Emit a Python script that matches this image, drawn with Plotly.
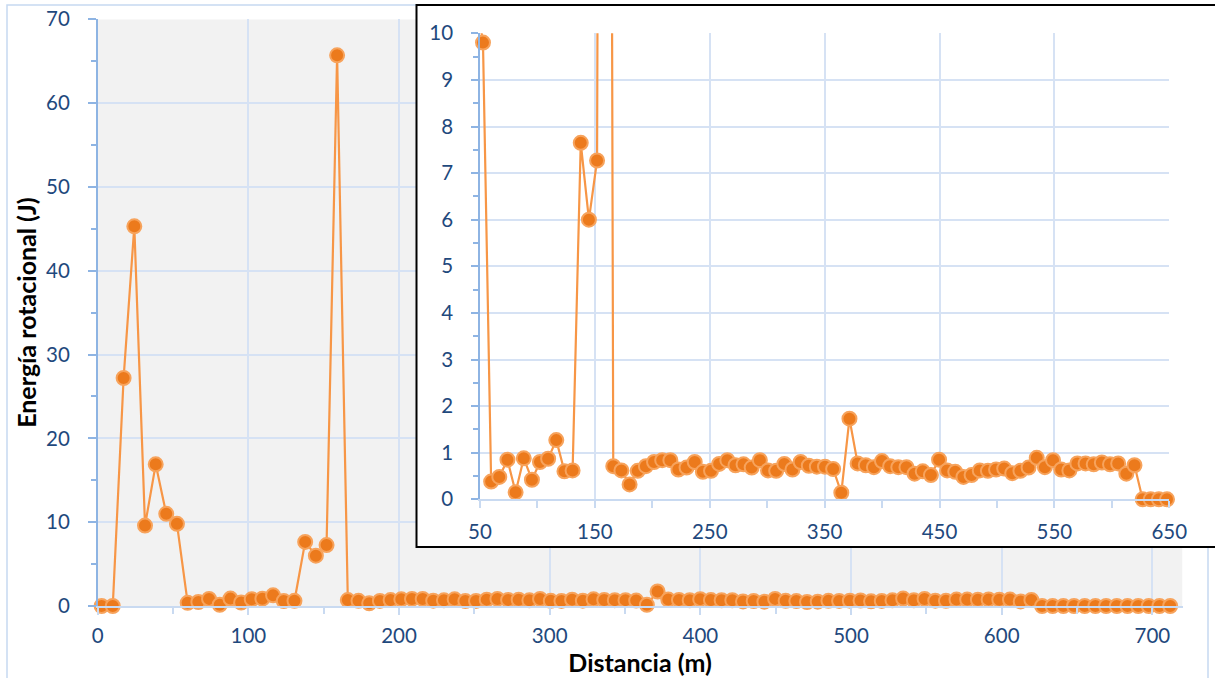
import plotly.graph_objects as go

# ---- data ----
distancia_m = [
    2.6, 10.0, 17.2, 24.3, 31.4, 38.5, 45.5, 52.6, 59.7, 66.8,
    73.9, 81.0, 88.1, 95.2, 102.2, 109.3, 116.4, 123.5, 130.6, 137.7,
    144.8, 151.9, 158.9, 166.0, 173.1, 180.2, 187.3, 194.4, 201.5, 208.6,
    215.7, 222.7, 229.8, 236.9, 244.0, 251.1, 258.2, 265.3, 272.4, 279.4,
    286.5, 293.6, 300.7, 307.8, 314.9, 322.0, 329.1, 336.2, 343.2, 350.3,
    357.4, 364.5, 371.6, 378.7, 385.8, 392.9, 399.9, 407.0, 414.1, 421.2,
    428.3, 435.4, 442.5, 449.6, 456.6, 463.7, 470.8, 477.9, 485.0, 492.1,
    499.2, 506.3, 513.3, 520.4, 527.5, 534.6, 541.7, 548.8, 555.9, 563.0,
    570.0, 577.1, 584.2, 591.3, 598.4, 605.5, 612.6, 619.7, 626.8, 633.8,
    640.9, 648.0, 655.1, 662.2, 669.3, 676.4, 683.5, 690.6, 697.6, 704.7,
    711.8,
]
energia_J = [
    0.0, 0.0, 27.2, 45.3, 9.6, 16.9, 11.0, 9.8, 0.38, 0.48,
    0.85, 0.15, 0.88, 0.42, 0.80, 0.87, 1.27, 0.60, 0.62, 7.65,
    6.0, 7.27, 65.7, 0.71, 0.62, 0.32, 0.61, 0.71, 0.80, 0.84,
    0.84, 0.64, 0.68, 0.80, 0.59, 0.61, 0.76, 0.84, 0.73, 0.75,
    0.68, 0.84, 0.62, 0.61, 0.76, 0.64, 0.80, 0.72, 0.70, 0.70,
    0.65, 0.14, 1.73, 0.77, 0.73, 0.69, 0.82, 0.71, 0.69, 0.69,
    0.55, 0.60, 0.52, 0.85, 0.62, 0.59, 0.48, 0.52, 0.62, 0.61,
    0.64, 0.66, 0.56, 0.61, 0.68, 0.89, 0.69, 0.84, 0.64, 0.62,
    0.77, 0.77, 0.75, 0.79, 0.75, 0.77, 0.55, 0.73, 0.0, 0.0,
    0.0, 0.0, 0.0, 0.0, 0.0, 0.0, 0.0, 0.0, 0.0, 0.0,
    0.0,
]
main_x_ticks = [0, 100, 200, 300, 400, 500, 600, 700]
main_x_minor = [50, 150, 250, 350, 450, 550, 650]
main_y_ticks = [0, 10, 20, 30, 40, 50, 60, 70]
main_y_minor = [5, 15, 25, 35, 45, 55, 65]
inset_x_ticks = [50, 150, 250, 350, 450, 550, 650]
inset_x_minor = [100, 200, 300, 400, 500, 600]
inset_y_ticks = [0, 1, 2, 3, 4, 5, 6, 7, 8, 9, 10]

x_title = "Distancia (m)"
y_title = "Energía rotacional (J)"

# ---- styling ----
W, H = 1215, 678
FONT = "Lato"
TICK_COLOR = "#1F497D"
GRID = "#D6E2F4"
AXIS_BLUE = "#8EB4E3"
XAXIS_LINE = "#C9DAF1"
LINE_ORANGE = "#F79646"
MARK_FILL = "#EC7A1C"
MARK_EDGE = "#F7A35C"


def px_x(p):
    return p / W


def px_y(p):
    return 1 - p / H


marker = dict(size=14, color=MARK_FILL, line=dict(color=MARK_EDGE, width=2))
line = dict(color=LINE_ORANGE, width=2.2)

fig = go.Figure()
fig.add_trace(go.Scatter(x=distancia_m, y=energia_J, mode="lines+markers",
                         line=line, marker=marker, cliponaxis=False,
                         xaxis="x", yaxis="y", showlegend=False, hoverinfo="x+y"))
# white backing panel for the inset (empty subplot)
fig.add_trace(go.Scatter(x=[None], y=[None], xaxis="x2", yaxis="y2",
                         showlegend=False, hoverinfo="skip"))
fig.add_trace(go.Scatter(x=distancia_m, y=energia_J, mode="lines+markers",
                         line=line, marker=marker, cliponaxis=False,
                         xaxis="x3", yaxis="y3", showlegend=False, hoverinfo="x+y"))

tickfont = dict(family=FONT, size=20.5, color=TICK_COLOR)
titlefont = dict(family=FONT, size=25, color="black", weight="bold")

main_dom_x = [px_x(97.7), px_x(1182.5)]
main_dom_y = [px_y(606.0), px_y(19.3)]
inset_dom_x = [px_x(480.0), px_x(1169.3)]
inset_dom_y = [px_y(499.3), px_y(33.3)]
box_x = [px_x(416.5), 1.0]
box_y = [px_y(547.0), px_y(5.0)]

common = dict(automargin=False, zeroline=False, showgrid=True, gridcolor=GRID,
              gridwidth=1.5, tickfont=tickfont)

fig.update_layout(
    template="none",
    width=W, height=H,
    margin=dict(l=0, r=0, t=0, b=0, pad=0),
    paper_bgcolor="white",
    plot_bgcolor="white",
    font=dict(family=FONT),
    xaxis=dict(domain=main_dom_x, anchor="y", range=[0, 720],
               tickvals=main_x_ticks,
               showline=True, linecolor=XAXIS_LINE, linewidth=1.5,
               ticks="outside", ticklen=7, tickcolor=XAXIS_LINE, tickwidth=1.5,
               minor=dict(tickvals=main_x_minor, ticks="outside",
                          ticklen=6, tickcolor=XAXIS_LINE, tickwidth=1.5, showgrid=False),
               ticklabelstandoff=4,
               title=dict(text=x_title, font=titlefont, standoff=8), **common),
    yaxis=dict(domain=main_dom_y, anchor="x", range=[0, 70],
               tickvals=main_y_ticks,
               showline=True, linecolor=AXIS_BLUE, linewidth=1.5,
               ticks="outside", ticklen=8, tickcolor=AXIS_BLUE, tickwidth=1.5,
               minor=dict(tickvals=main_y_minor, ticks="outside",
                          ticklen=5, tickcolor=AXIS_BLUE, tickwidth=1.5, showgrid=False),
               ticklabelstandoff=14,
               title=dict(text=y_title, font=titlefont, standoff=2), **common),
    xaxis2=dict(domain=box_x, anchor="y2", range=[0, 1], visible=False, automargin=False),
    yaxis2=dict(domain=box_y, anchor="x2", range=[0, 1], visible=False, automargin=False),
    xaxis3=dict(domain=inset_dom_x, anchor="y3", range=[50, 650],
                tickvals=inset_x_ticks,
                showline=True, linecolor=XAXIS_LINE, linewidth=1.5,
                ticks="outside", ticklen=7, tickcolor=XAXIS_LINE, tickwidth=1.5,
                minor=dict(tickvals=inset_x_minor, ticks="outside",
                           ticklen=7, tickcolor=XAXIS_LINE, tickwidth=1.5, showgrid=False),
                ticklabelstandoff=6, **common),
    yaxis3=dict(domain=inset_dom_y, anchor="x3", range=[0, 10],
                tickvals=inset_y_ticks,
                showline=True, linecolor=AXIS_BLUE, linewidth=1.5,
                ticks="outside", ticklen=7, tickcolor=AXIS_BLUE, tickwidth=1.5,
                minor=dict(dtick=0.5, tick0=0, ticks="outside",
                           ticklen=5, tickcolor=AXIS_BLUE, tickwidth=1.5, showgrid=False),
                ticklabelstandoff=14, **common),
    shapes=[
        # outer chart border (light blue)
        dict(type="rect", xref="paper", yref="paper",
             x0=px_x(7), x1=px_x(1208), y0=-0.1, y1=px_y(5),
             line=dict(color="#C6D9F1", width=1.5), fillcolor="rgba(0,0,0,0)", layer="below"),
        # grey plot background of main chart
        dict(type="rect", xref="x", yref="y", x0=0, x1=720, y0=0, y1=70,
             fillcolor="#F2F2F2", line=dict(width=0), layer="below"),
        # inset frame
        dict(type="rect", xref="paper", yref="paper",
             x0=box_x[0], x1=1.01, y0=box_y[0], y1=box_y[1],
             line=dict(color="black", width=2), fillcolor="rgba(0,0,0,0)", layer="above"),
    ],
)

fig.write_html("out.html",
               config={"displayModeBar": False},
               post_script="document.body.style.margin='0';document.body.style.overflow='hidden';")
